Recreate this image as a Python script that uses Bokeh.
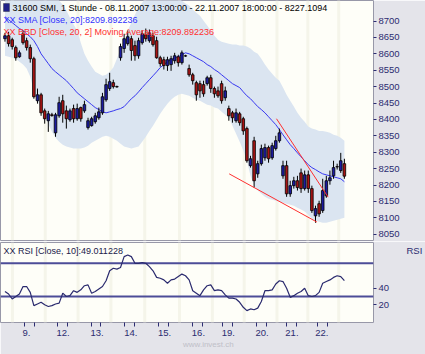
from bokeh.plotting import figure
from bokeh.models import Range1d, LinearAxis, FixedTicker, Label, BoxAnnotation, Span
from bokeh.layouts import column
from bokeh.embed import file_html
from bokeh.resources import INLINE

# ---------------- data ----------------
opens = [8646, 8655, 8643, 8619, 8591, 8661, 8640, 8619, 8585, 8457,
         8475, 8426, 8396, 8414, 8359, 8411, 8457, 8426, 8399, 8433,
         8402, 8436, 8426, 8375, 8381, 8393, 8405, 8420, 8460, 8494,
         8512, 8500, 8588, 8616, 8631, 8646, 8625, 8594, 8634, 8658,
         8640, 8655, 8640, 8588, 8582, 8564, 8567, 8579, 8591, 8573,
         8594, 8555, 8536, 8512, 8509, 8506, 8509, 8527, 8494, 8487,
         8509, 8466, 8433, 8420, 8396, 8417, 8402, 8372, 8259, 8335,
         8234, 8265, 8283, 8314, 8283, 8311, 8335, 8228, 8259, 8173,
         8198, 8213, 8237, 8189, 8231, 8189, 8106, 8143, 8122, 8167,
         8213, 8228, 8256, 8244, 8265]
highs = [8664, 8667, 8649, 8625, 8610, 8671, 8649, 8628, 8591, 8494,
         8481, 8433, 8426, 8420, 8420, 8469, 8475, 8442, 8433, 8445,
         8448, 8439, 8457, 8405, 8408, 8420, 8436, 8481, 8524, 8542,
         8521, 8503, 8631, 8661, 8671, 8655, 8640, 8649, 8671, 8677,
         8674, 8664, 8652, 8594, 8591, 8591, 8594, 8603, 8597, 8610,
         8597, 8567, 8542, 8518, 8518, 8518, 8533, 8536, 8500, 8500,
         8518, 8500, 8442, 8426, 8433, 8423, 8408, 8378, 8289, 8347,
         8274, 8323, 8326, 8320, 8329, 8350, 8372, 8274, 8274, 8213,
         8225, 8228, 8250, 8244, 8244, 8198, 8137, 8152, 8219, 8228,
         8244, 8274, 8265, 8298, 8280]
lows = [8637, 8622, 8613, 8579, 8588, 8628, 8610, 8573, 8463, 8448,
        8411, 8387, 8362, 8408, 8347, 8405, 8390, 8372, 8393, 8390,
        8396, 8393, 8420, 8369, 8378, 8387, 8399, 8414, 8454, 8487,
        8494, 8497, 8579, 8603, 8625, 8579, 8579, 8585, 8628, 8637,
        8634, 8622, 8585, 8561, 8552, 8548, 8548, 8570, 8561, 8567,
        8591, 8530, 8506, 8457, 8466, 8469, 8503, 8481, 8466, 8466,
        8448, 8457, 8396, 8390, 8390, 8381, 8353, 8268, 8253, 8192,
        8222, 8259, 8274, 8268, 8277, 8305, 8329, 8219, 8164, 8164,
        8189, 8183, 8176, 8183, 8176, 8115, 8085, 8103, 8115, 8161,
        8201, 8219, 8247, 8237, 8219]
closes = [8655, 8631, 8622, 8588, 8603, 8634, 8619, 8585, 8469, 8475,
          8420, 8402, 8417, 8412, 8414, 8451, 8417, 8402, 8426, 8402,
          8433, 8402, 8445, 8396, 8402, 8411, 8423, 8469, 8506, 8515,
          8500, 8499, 8622, 8646, 8652, 8610, 8594, 8640, 8661, 8646,
          8664, 8628, 8588, 8570, 8564, 8582, 8585, 8594, 8573, 8603,
          8593, 8536, 8518, 8475, 8487, 8478, 8527, 8494, 8478, 8472,
          8457, 8487, 8411, 8405, 8420, 8390, 8365, 8274, 8280, 8213,
          8265, 8311, 8314, 8280, 8320, 8335, 8359, 8259, 8173, 8198,
          8213, 8192, 8189, 8231, 8189, 8122, 8128, 8112, 8183, 8213,
          8222, 8253, 8255, 8274, 8227]
sma20 = [8713, 8704, 8695, 8686, 8677, 8671, 8661, 8652, 8640, 8622,
         8600, 8585, 8570, 8555, 8545, 8536, 8527, 8518, 8506, 8494,
         8481, 8472, 8463, 8454, 8445, 8436, 8430, 8423, 8420, 8423,
         8426, 8430, 8433, 8439, 8451, 8463, 8472, 8484, 8497, 8509,
         8521, 8533, 8545, 8558, 8567, 8576, 8582, 8588, 8591, 8597,
         8603, 8600, 8594, 8588, 8582, 8576, 8567, 8561, 8552, 8545,
         8536, 8527, 8518, 8509, 8503, 8497, 8484, 8472, 8463, 8451,
         8439, 8430, 8420, 8408, 8396, 8384, 8369, 8353, 8338, 8323,
         8311, 8298, 8286, 8274, 8262, 8253, 8247, 8240, 8234, 8231,
         8228, 8225, 8222, 8219, 8210]
bb_upper = [8793, 8799, 8805, 8811, 8817, 8823, 8823, 8823, 8823, 8820,
            8817, 8814, 8808, 8793, 8777, 8762, 8750, 8732, 8710, 8689,
            8671, 8634, 8600, 8579, 8561, 8545, 8539, 8533, 8536, 8545,
            8558, 8585, 8616, 8640, 8671, 8695, 8719, 8741, 8756, 8771,
            8777, 8780, 8780, 8780, 8780, 8777, 8777, 8774, 8771, 8762,
            8753, 8747, 8735, 8725, 8716, 8701, 8686, 8671, 8655, 8643,
            8637, 8634, 8631, 8628, 8628, 8625, 8625, 8622, 8616, 8606,
            8600, 8585, 8567, 8552, 8539, 8527, 8518, 8497, 8475, 8457,
            8439, 8420, 8405, 8393, 8378, 8372, 8369, 8365, 8365, 8362,
            8359, 8353, 8350, 8344, 8335]
bb_lower = [8594, 8591, 8588, 8585, 8576, 8567, 8555, 8530, 8487, 8457,
            8433, 8411, 8387, 8362, 8344, 8332, 8323, 8317, 8314, 8311,
            8311, 8311, 8314, 8320, 8329, 8335, 8341, 8347, 8350, 8347,
            8341, 8335, 8326, 8317, 8314, 8311, 8314, 8317, 8332, 8347,
            8365, 8381, 8399, 8417, 8433, 8448, 8460, 8469, 8475, 8478,
            8475, 8472, 8466, 8460, 8457, 8451, 8445, 8442, 8436, 8433,
            8423, 8414, 8405, 8381, 8356, 8332, 8305, 8274, 8228, 8198,
            8183, 8173, 8164, 8158, 8155, 8152, 8149, 8146, 8143, 8140,
            8137, 8131, 8125, 8119, 8109, 8097, 8091, 8088, 8085, 8085,
            8088, 8091, 8094, 8097, 8100]
rsi10 = [36, 33, 27, 30, 33, 42, 42, 35, 19, 21,
         23, 20, 18, 19, 21, 22, 34, 30, 31, 37,
         35, 38, 43, 44, 34, 36, 39, 42, 49, 61,
         64, 63, 65, 78, 80, 78, 70, 70, 71, 70,
         66, 61, 53, 52, 50, 46, 50, 51, 54, 57,
         55, 50, 37, 34, 31, 38, 43, 44, 37, 38,
         37, 32, 28, 28, 27, 23, 17, 13, 15, 14,
         16, 24, 37, 37, 38, 45, 49, 48, 40, 29,
         31, 34, 36, 40, 31, 30, 31, 35, 46, 48,
         50, 53, 55, 54, 49.01]
trend1_x = [62.1, 86.4]
trend1_y = [8234, 8087]
trend2_x = [75.2, 89.5]
trend2_y = [8402, 8163]
day_labels = ["9.", "12.", "13.", "14.", "15.", "16.", "19.", "20.", "21.", "22."]
price_ticks = [8050, 8100, 8150, 8200, 8250, 8300, 8350, 8400, 8450, 8500,
               8550, 8600, 8650, 8700]
rsi_ticks = [20, 40]
rsi_levels = [30, 70]

bars = list(range(len(closes)))

# ---------------- geometry / style ----------------
PX_BAR = 3.63
X_START = -4.5 / PX_BAR
X_END = X_START + 375 / PX_BAR
PX_PT = 0.328
Y_TOP = 8762.5
Y_BOT = Y_TOP - 240 / PX_PT
R_PX = 0.83


def xd(px):
    return X_START + px / PX_BAR


def yd(py):
    return Y_TOP - py / PX_PT


def rd(py):
    return 30 + (296 - py) / R_PX


R_TOP = rd(242)
R_BOT = rd(322)

FONT = "Liberation Sans"
NAVY = "#2c2c70"
GRAY = "#e4e4ea"
BG = "#fefef8"
STRIPE = "#f5f5ea"

tick_px = [24, 34, 57, 67, 91.5, 101, 124.5, 134.5, 158.5, 169,
           193, 203, 223.5, 233.5, 257, 267, 287.5, 298, 318.5, 328.5]
label_px = [26, 63, 97, 131, 165, 199, 229, 263, 293, 323]
stripe_px = [12, 45, 78, 111, 145, 180, 213, 245, 278, 309, 340]
tick_pos = [xd(v) for v in tick_px]
label_pos = [xd(v) for v in label_px]

x_range = Range1d(X_START, X_END)

# ---------------- main price panel ----------------
p = figure(width=425, height=241, x_range=x_range, y_range=Range1d(Y_BOT, Y_TOP),
           output_backend="svg", toolbar_location=None,
           x_axis_location=None, y_axis_location="right",
           min_border_left=0, min_border_right=50, min_border_top=0, min_border_bottom=1)
p.background_fill_color = BG
p.border_fill_color = GRAY
p.outline_line_color = "#9898a8"
p.grid.visible = False

for s in stripe_px:
    p.add_layout(Span(location=xd(s), dimension="height", line_color=STRIPE,
                      line_width=3, level="underlay"))

p.varea(x=bars, y1=bb_lower, y2=bb_upper, fill_color="#dbe5f1", fill_alpha=1.0)
p.line(bars, sma20, line_color="#3838f0", line_width=1)

p.segment(x0=bars, y0=lows, x1=bars, y1=highs, line_color="black", line_width=1)
tops = [max(o, c) for o, c in zip(opens, closes)]
bots = [min(o, c) for o, c in zip(opens, closes)]
cols = ["#1c1ca0" if c >= o else "#a81414" for o, c in zip(opens, closes)]
p.vbar(x=bars, width=0.72, top=tops, bottom=bots, fill_color=cols,
       line_color="black", line_width=0.8)

p.line(trend1_x, trend1_y, line_color="#ff3030", line_width=1)
p.line(trend2_x, trend2_y, line_color="#ff3030", line_width=1)

ya = p.yaxis[0]
ya.ticker = FixedTicker(ticks=price_ticks)

p.add_layout(BoxAnnotation(left=xd(3), right=xd(9), top=yd(3), bottom=yd(11),
                           fill_color="#22228a", fill_alpha=1, line_color="black"))
p.add_layout(Label(x=xd(12), y=yd(7.5),
                   text="31600  SMI, 1 Stunde - 08.11.2007 13:00:00 - 22.11.2007 18:00:00 - 8227.1094",
                   text_font=FONT, text_font_size="9px", text_baseline="middle",
                   text_color="black"))
p.add_layout(Label(x=xd(3), y=yd(19.5), text="XX SMA [Close, 20]:8209.892236",
                   text_font=FONT, text_font_size="9px", text_baseline="middle",
                   text_color="#3030ff"))
p.add_layout(Label(x=xd(3), y=yd(31.5), text="XX BBD [Close, 20, 2] Moving Average:8209.892236",
                   text_font=FONT, text_font_size="9px", text_baseline="middle",
                   text_color="#ff3030"))

# ---------------- RSI panel ----------------
r = figure(width=425, height=113, x_range=x_range, y_range=Range1d(R_BOT, R_TOP),
           output_backend="svg", toolbar_location=None,
           x_axis_location=None, y_axis_location="right",
           min_border_left=0, min_border_right=50, min_border_top=1, min_border_bottom=32)
r.background_fill_color = BG
r.border_fill_color = GRAY
r.outline_line_color = "#9898a8"
r.grid.visible = False

for s in stripe_px:
    r.add_layout(Span(location=xd(s), dimension="height", line_color=STRIPE,
                      line_width=3, level="underlay"))
for lvl in rsi_levels:
    r.add_layout(Span(location=lvl, dimension="width", line_color="#4c4c98",
                      line_width=2, level="underlay"))
r.line(bars, rsi10, line_color="#2a2a6e", line_width=1.2)

r.yaxis[0].ticker = FixedTicker(ticks=rsi_ticks)

r.add_layout(Label(x=xd(3), y=rd(250), text="XX RSI [Close, 10]:49.011228",
                   text_font=FONT, text_font_size="9px", text_baseline="middle",
                   text_color="#20204a"))

for ax in (ya, r.yaxis[0]):
    ax.axis_line_color = None
    ax.major_tick_out = 3
    ax.major_tick_in = 0
    ax.minor_tick_line_color = None
    ax.major_tick_line_color = NAVY
    ax.major_label_text_color = NAVY
    ax.major_label_text_font = FONT
    ax.major_label_text_font_size = "9.5px"
    ax.major_label_standoff = 2

# "RSI" caption in the right margin, as a one-tick extra axis
rsi_cap = 85
ax_cap = LinearAxis(ticker=FixedTicker(ticks=[rsi_cap]),
                    major_label_overrides={rsi_cap: "RSI"})
ax_cap.axis_line_color = None
ax_cap.major_tick_line_color = None
ax_cap.major_tick_out = 0
ax_cap.major_tick_in = 0
ax_cap.minor_tick_line_color = None
ax_cap.major_label_standoff = 14
ax_cap.major_label_text_color = NAVY
ax_cap.major_label_text_font = FONT
ax_cap.major_label_text_font_size = "9.5px"
r.add_layout(ax_cap, "right")

ax1 = LinearAxis(ticker=FixedTicker(ticks=tick_pos),
                 major_label_overrides={t: "" for t in tick_pos})
ax1.axis_line_color = None
ax1.major_tick_out = 4
ax1.major_tick_in = 0
ax1.minor_tick_line_color = None
ax1.major_tick_line_color = NAVY
ax1.major_label_standoff = 0
ax1.major_label_text_font_size = "1px"
r.add_layout(ax1, "below")

ax2 = LinearAxis(ticker=FixedTicker(ticks=label_pos),
                 major_label_overrides=dict(zip(label_pos, day_labels)))
ax2.axis_line_color = None
ax2.major_tick_line_color = None
ax2.major_tick_out = 0
ax2.major_tick_in = 0
ax2.minor_tick_line_color = None
ax2.major_label_standoff = 3
ax2.major_label_text_color = NAVY
ax2.major_label_text_font = FONT
ax2.major_label_text_font_size = "9.5px"
r.add_layout(ax2, "below")

wm_pos = xd(209)
ax3 = LinearAxis(ticker=FixedTicker(ticks=[wm_pos]),
                 major_label_overrides={wm_pos: "www.invest.ch"})
ax3.axis_line_color = None
ax3.major_tick_line_color = None
ax3.major_tick_out = 0
ax3.major_tick_in = 0
ax3.minor_tick_line_color = None
ax3.major_label_standoff = 1
ax3.major_label_text_color = "#c0c0c8"
ax3.major_label_text_font = FONT
ax3.major_label_text_font_size = "8px"
r.add_layout(ax3, "below")

layout = column(p, r, spacing=0)
open("out.html", "w").write(file_html(layout, INLINE))
